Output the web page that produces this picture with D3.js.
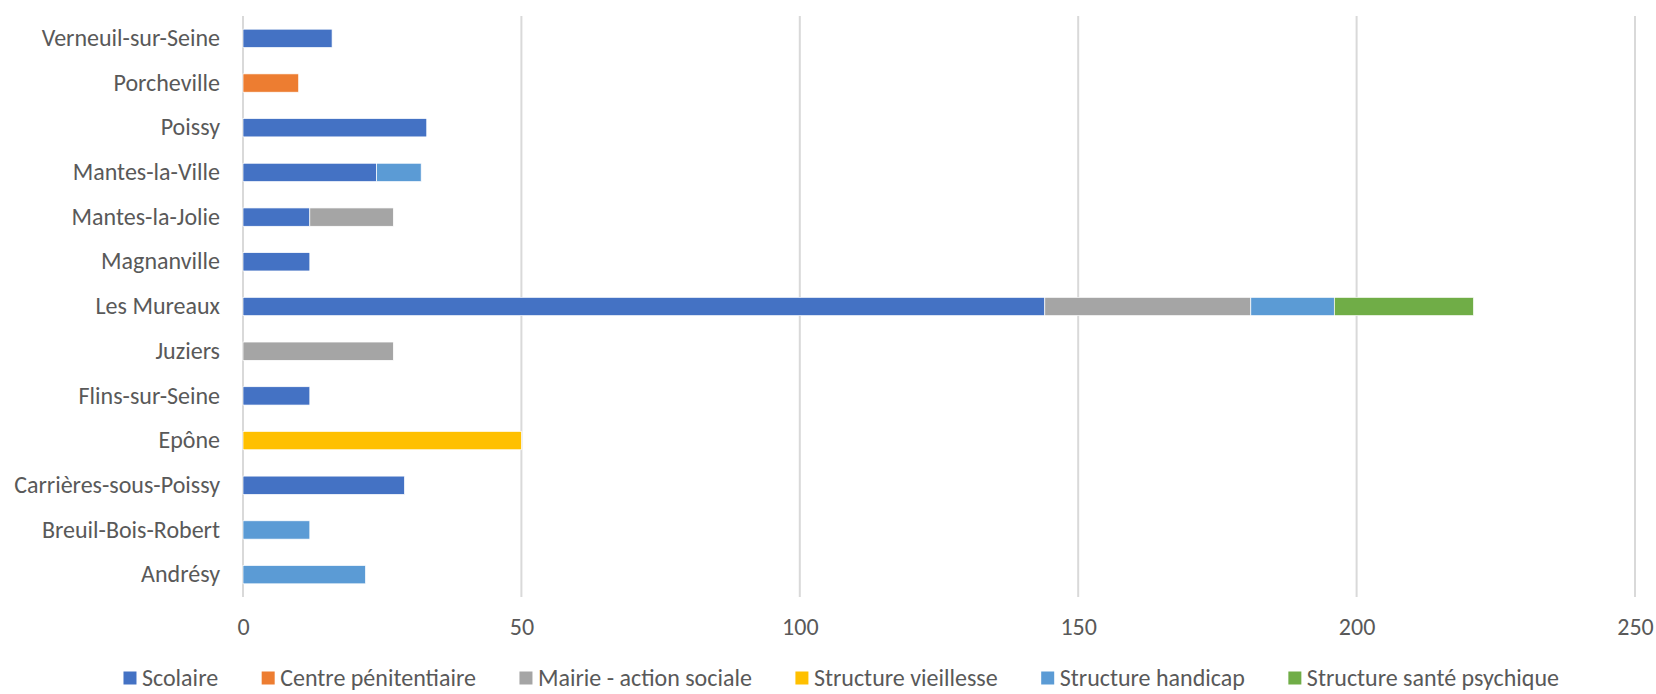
<!DOCTYPE html>
<html><head><meta charset="utf-8">
<script src="https://cdn.jsdelivr.net/npm/d3@7"></script>
<style>body{margin:0;background:#fff;} svg{display:block;}</style>
</head><body>
<svg id="c" width="1656" height="694"></svg>
<script>
const categories = ["Verneuil-sur-Seine","Porcheville","Poissy","Mantes-la-Ville","Mantes-la-Jolie","Magnanville","Les Mureaux","Juziers","Flins-sur-Seine","Epône","Carrières-sous-Poissy","Breuil-Bois-Robert","Andrésy"];
const seriesNames = ["Scolaire","Centre pénitentiaire","Mairie - action sociale","Structure vieillesse","Structure handicap","Structure santé psychique"];
const scolaire      = [16,0,33,24,12,12,144,0,12,0,29,0,0];
const penitentiaire = [0,10,0,0,0,0,0,0,0,0,0,0,0];
const mairie        = [0,0,0,0,15,0,37,27,0,0,0,0,0];
const vieillesse    = [0,0,0,0,0,0,0,0,0,50,0,0,0];
const handicap      = [0,0,0,8,0,0,15,0,0,0,0,12,22];
const sante         = [0,0,0,0,0,0,25,0,0,0,0,0,0];
const tickValues    = [0,50,100,150,200,250];
const colors = ["#4472C4","#ED7D31","#A5A5A5","#FFC000","#5B9BD5","#70AD47"];

const seriesVals = [scolaire,penitentiaire,mairie,vieillesse,handicap,sante];
const rows = categories.map((c,i)=>{const o={cat:c}; seriesNames.forEach((s,j)=>o[s]=seriesVals[j][i]); return o;});
const stack = d3.stack().keys(seriesNames)(rows);

const svg = d3.select("#c");
const font = "Calibri, Carlito, 'Open Sans', sans-serif";
const FS = 24;
const L=243, R=1635, T=16, B=597;
const x = d3.scaleLinear().domain([0,250]).range([L,R]);
const y = d3.scaleBand().domain(categories).range([T,B]).paddingInner(0.59).paddingOuter(0.295);

// gridlines
svg.append("g").selectAll("line").data(tickValues).join("line")
  .attr("x1",d=>x(d)).attr("x2",d=>x(d)).attr("y1",T).attr("y2",B)
  .attr("stroke","#D9D9D9").attr("stroke-width",2);

// bars
svg.append("g").selectAll("g").data(stack).join("g")
  .attr("fill",(d,i)=>colors[i])
  .selectAll("rect").data(d=>d.filter(p=>p[1]-p[0]>0)).join("rect")
  .attr("x",d=>x(d[0])).attr("width",d=>x(d[1])-x(d[0]))
  .attr("y",d=>y(d.data.cat)).attr("height",y.bandwidth())
  .attr("stroke","#fff").attr("stroke-width",0.7);

// y axis labels
const yAxis = d3.axisLeft(y).tickSize(0).tickPadding(23);
const gy = svg.append("g").attr("transform",`translate(${L},0)`).call(yAxis);
gy.select(".domain").remove();
gy.selectAll("text").attr("font-family",font).attr("font-size",FS).attr("fill","#595959");

// x axis
const xAxis = d3.axisBottom(x).tickValues(tickValues).tickSize(0).tickPadding(0);
const gx = svg.append("g").attr("transform",`translate(0,${B+21})`).call(xAxis);
gx.select(".domain").remove();
gx.selectAll("text").attr("font-family",font).attr("font-size",FS).attr("fill","#595959");

// legend
const lg = svg.append("g");
const items = lg.selectAll("g").data(seriesNames).join("g");
items.append("rect").attr("width",13).attr("height",13).attr("y",-6.5).attr("fill",(d,i)=>colors[i]);
items.append("text").text(d=>d).attr("x",18.5).attr("dy","0.35em")
  .attr("font-family",font).attr("font-size",FS).attr("fill","#595959");
let cx=0; const gap=43.5;
items.each(function(){const w=this.getBBox().width; d3.select(this).attr("transform",`translate(${cx},678)`); cx+=w+gap;});
const total=cx-gap;
lg.attr("transform",`translate(${(124.5+1558)/2 - total/2},0)`);
</script>
</body></html>
